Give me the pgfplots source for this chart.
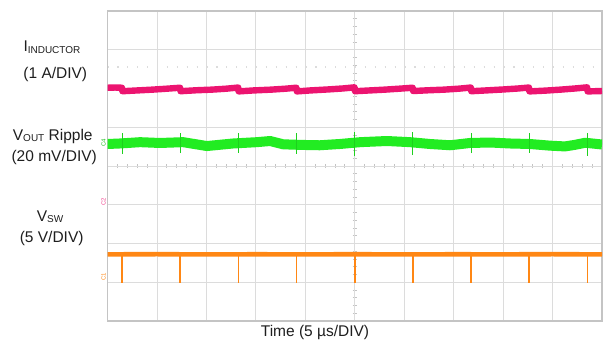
\documentclass[border=0pt]{standalone}
\usepackage{pgfplots}
\pgfplotsset{compat=1.18}
\usepackage{fontspec}
\setmainfont{Liberation Sans}
\definecolor{imag}{HTML}{EC1470}
\definecolor{vgreen}{HTML}{22EC22}
\definecolor{vorange}{HTML}{FF8714}
\definecolor{gridc}{HTML}{DCDCDC}
\definecolor{boxc}{HTML}{C4C4C4}
\definecolor{txt}{HTML}{1E1E1E}
\newcommand{\lbl}{\fontsize{15.5bp}{18bp}\selectfont}
\newcommand{\subt}[1]{\raisebox{-1.9bp}{\fontsize{10bp}{12bp}\selectfont #1}}
\begin{document}
\begin{tikzpicture}
\path[use as bounding box] (0,0) rectangle (605bp,343bp);
% centre cross with fine ticks
\begin{axis}[at={(107.5bp,22bp)}, anchor=south west, width=494.5bp, height=310bp, scale only axis,
  xmin=-5, xmax=5, ymin=-4, ymax=4, axis lines*=center,
  xtick={-5,...,5}, ytick={-4,...,4}, minor tick num=4,
  xticklabels={}, yticklabels={}, major tick length=0pt, minor tick length=4.5bp, tick align=center,
  tick style={draw=boxc, line width=0.8bp}, axis line style={draw=boxc, line width=0.9bp},
  hide obscured x ticks=false, hide obscured y ticks=false]
\addplot[draw=none] coordinates {(0,0)};
\end{axis}
% grid, box and traces
\begin{axis}[at={(107.5bp,22bp)}, anchor=south west, width=494.5bp, height=310bp, scale only axis,
  xmin=0, xmax=10, ymin=0, ymax=8,
  xtick={0,...,10}, ytick={0,...,8}, xticklabels={}, yticklabels={}, major tick length=0pt,
  grid=major, major grid style={draw=gridc, line width=0.8bp},
  axis line style={draw=boxc, line width=1.3bp}, unbounded coords=jump, clip=true]
% faint dotted reference row
\addplot[draw=gridc, line width=1.1bp, dash pattern=on 1.1bp off 8.8bp] coordinates {(0,6.555) (10,6.555)};
% inductor current
\addplot[imag, line width=6.4bp, line join=round] coordinates {
(0,6.02) (0.15,6.025) (0.292,6.02) (0.300,5.93) (0.6,5.95) (0.9,5.97) (1.2,5.995) (1.468,6.02)
(1.476,5.93) (1.8,5.955) (2.1,5.97) (2.4,5.995) (2.644,6.025)
(2.652,5.925) (2.95,5.95) (3.3,5.97) (3.6,5.995) (3.82,6.02)
(3.828,5.925) (4.1,5.95) (4.45,5.975) (4.75,6.0) (4.996,6.03)
(5.004,5.93) (5.3,5.95) (5.6,5.97) (5.9,5.995) (6.172,6.02)
(6.18,5.935) (6.5,5.955) (6.8,5.97) (7.1,5.995) (7.348,6.025)
(7.356,5.93) (7.65,5.95) (8.0,5.975) (8.3,6.0) (8.524,6.025)
(8.532,5.925) (8.85,5.945) (9.15,5.97) (9.45,6.0) (9.70,6.03)
(9.708,5.925) (10,5.935)};
% output ripple band
\addplot[vgreen, line width=10bp, line join=round] coordinates {
(0,4.568) (0.25,4.581) (0.66,4.615) (1.06,4.594) (1.53,4.615) (2.01,4.515) (2.54,4.581)
(3.02,4.615) (3.29,4.645) (3.55,4.56) (3.89,4.545) (4.29,4.535) (4.70,4.568) (5.11,4.615)
(5.65,4.645) (6.12,4.615) (6.52,4.568) (6.93,4.535) (7.33,4.594) (7.74,4.606) (8.14,4.581)
(8.54,4.568) (8.95,4.525) (9.25,4.505) (9.45,4.545) (9.66,4.60) (10,4.555)};
% output ripple switching spikes
\addplot[vgreen!88!black, line width=1.1bp] coordinates {
(0.296,4.31) (0.296,4.86) (0.296,nan)
(1.472,4.33) (1.472,4.85) (1.472,nan)
(2.648,4.34) (2.648,4.84) (2.648,nan)
(3.824,4.32) (3.824,4.85) (3.824,nan)
(5.000,4.25) (5.000,4.89) (5.000,nan)
(6.176,4.28) (6.176,4.87) (6.176,nan)
(7.352,4.33) (7.352,4.85) (7.352,nan)
(8.528,4.34) (8.528,4.84) (8.528,nan)
(9.704,4.27) (9.704,4.86)};
% switch node band
\addplot[vorange, line width=4.6bp] coordinates {
(0,1.72) (1,1.724) (2,1.718) (3,1.722) (4,1.719) (5,1.723) (6,1.718) (7,1.722) (8,1.72) (9,1.724) (10,1.719)};
% switch node dips
\addplot[vorange, line width=1.6bp] coordinates {
(0.296,1.72) (0.296,0.98) (0.296,nan)
(1.472,1.72) (1.472,0.98) (1.472,nan)
(2.648,1.72) (2.648,0.98) (2.648,nan)
(3.824,1.72) (3.824,0.98) (3.824,nan)
(5.000,1.72) (5.000,0.97) (5.000,nan)
(6.176,1.72) (6.176,0.98) (6.176,nan)
(7.352,1.72) (7.352,0.98) (7.352,nan)
(8.528,1.72) (8.528,0.98) (8.528,nan)
(9.704,1.72) (9.704,0.98)};
\end{axis}
% channel ground markers
\node[rotate=90, inner sep=0, text=vgreen!80!black, font=\fontsize{6bp}{7bp}\selectfont] at (103.5bp,200bp) {C4};
\node[rotate=90, inner sep=0, text=imag!80, font=\fontsize{6bp}{7bp}\selectfont] at (103.5bp,141bp) {C2};
\node[rotate=90, inner sep=0, text=vorange, font=\fontsize{6bp}{7bp}\selectfont] at (103.5bp,66bp) {C1};
% labels
\node[anchor=base west, inner sep=0, text=txt] at (23.3bp,291.3bp) {\lbl I\subt{INDUCTOR}};
\node[anchor=center, inner sep=0, text=txt] at (55.3bp,268.8bp) {\lbl (1 A/DIV)};
\node[anchor=base west, inner sep=0, text=txt] at (12.7bp,202.9bp) {\lbl V\subt{OUT} Ripple};
\node[anchor=center, inner sep=0, text=txt] at (54.2bp,185.5bp) {\lbl (20 mV/DIV)};
\node[anchor=base west, inner sep=0, text=txt] at (36.7bp,121.9bp) {\lbl V\subt{SW}};
\node[anchor=center, inner sep=0, text=txt] at (51.7bp,104.7bp) {\lbl (5 V/DIV)};
\node[anchor=center, inner sep=0, text=txt] at (315bp,10.5bp) {\lbl Time (5 µs/DIV)};
\end{tikzpicture}
\end{document}
